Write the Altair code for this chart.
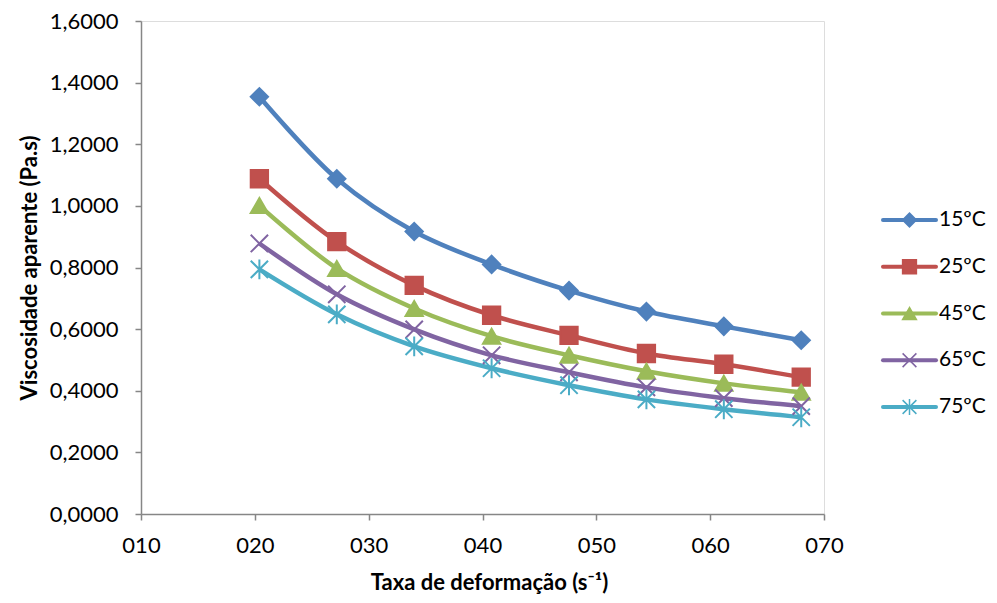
import altair as alt
import pandas as pd

# ---- data ----
series = ["15ºC", "25ºC", "45ºC", "65ºC", "75ºC"]
shear_rate = [20.4, 27.2, 34.0, 40.8, 47.6, 54.4, 61.2, 68.0]
visc_15 = [1.354, 1.088, 0.917, 0.810, 0.725, 0.657, 0.609, 0.564]
visc_25 = [1.088, 0.884, 0.742, 0.645, 0.580, 0.521, 0.486, 0.444]
visc_45 = [1.001, 0.797, 0.667, 0.577, 0.515, 0.463, 0.424, 0.395]
visc_65 = [0.878, 0.713, 0.599, 0.515, 0.460, 0.411, 0.376, 0.350]
visc_75 = [0.794, 0.648, 0.544, 0.473, 0.418, 0.372, 0.340, 0.314]
x_ticks = [10, 20, 30, 40, 50, 60, 70]
y_ticks = [0, 0.2, 0.4, 0.6, 0.8, 1.0, 1.2, 1.4, 1.6]

colors = ["#4F81BD", "#C0504D", "#9BBB59", "#8064A2", "#4BACC6"]
shapes = ["diamond", "square", "triangle-up",
          "M-1,-1L1,1M1,-1L-1,1",
          "M-1,-1L1,1M1,-1L-1,1M0,-1.15L0,1.15"]

rows = []
for s, vals in zip(series, [visc_15, visc_25, visc_45, visc_65, visc_75]):
    for xv, yv in zip(shear_rate, vals):
        rows.append({"series": s, "rate": xv, "visc": yv})
df = pd.DataFrame(rows)
leg = pd.DataFrame({"series": series})

FONT = "Lato"
AXIS_GRAY = "#868686"

color_scale = alt.Scale(domain=series, range=colors)
shape_scale = alt.Scale(domain=series, range=shapes)
x_scale = alt.Scale(domain=[10, 70], nice=False, zero=False)
y_scale = alt.Scale(domain=[0, 1.6], nice=False)

x_axis = alt.Axis(
    values=x_ticks, format="03d", title="Taxa de deformação (s⁻¹)",
    grid=False, domainColor=AXIS_GRAY, domainWidth=1.5, tickColor=AXIS_GRAY,
    tickWidth=1.5, tickSize=6, labelFont=FONT, labelFontSize=22, labelColor="#000",
    labelPadding=15, titleFont=FONT, titleFontSize=22, titleFontWeight="bold",
    titleColor="#000", titlePadding=16, titleX=348, labelFlush=False)

y_axis = alt.Axis(
    values=y_ticks, labelExpr="replace(format(datum.value, '.4f'), '.', ',')",
    title="Viscosidade aparente (Pa.s)", grid=False, domainColor=AXIS_GRAY,
    domainWidth=1.5, tickColor=AXIS_GRAY, tickWidth=1.5, tickSize=6,
    labelFont=FONT, labelFontSize=22, labelColor="#000", labelPadding=17,
    titleFont=FONT, titleFontSize=22, titleFontWeight="bold", titleColor="#000",
    titlePadding=8, labelFlush=False)

x_enc = alt.X("rate:Q", scale=x_scale, axis=x_axis)
y_enc = alt.Y("visc:Q", scale=y_scale, axis=y_axis)

lines = alt.Chart(df).mark_line(interpolate="catmull-rom", strokeWidth=4.5).encode(
    x=x_enc, y=y_enc,
    color=alt.Color("series:N", scale=color_scale, legend=None),
    detail="series:N",
)

points = alt.Chart(df).mark_point(filled=True, size=300, strokeWidth=2, opacity=1).encode(
    x=x_enc, y=y_enc,
    shape=alt.Shape("series:N", scale=shape_scale, legend=None),
    fill=alt.Fill("series:N", scale=color_scale, legend=None),
    stroke=alt.Stroke("series:N", scale=color_scale, legend=None),
)

main = alt.layer(lines, points)

leg_y = alt.Y("series:N", scale=alt.Scale(type="point", domain=series,
                                          range=[199, 386], padding=0), axis=None)

leg_rules = alt.Chart(leg).mark_rule(strokeWidth=4, strokeCap="round").encode(
    x=alt.value(742), x2=alt.value(795), y=leg_y,
    color=alt.Color("series:N", scale=color_scale, legend=None),
)
leg_pts = alt.Chart(leg).mark_point(filled=True, size=190, strokeWidth=1.5, opacity=1).encode(
    x=alt.value(768.5), y=leg_y,
    shape=alt.Shape("series:N", scale=shape_scale, legend=None),
    fill=alt.Fill("series:N", scale=color_scale, legend=None),
    stroke=alt.Stroke("series:N", scale=color_scale, legend=None),
)
leg_text = alt.Chart(leg).mark_text(align="left", baseline="middle", font=FONT,
                                     fontSize=21, color="#000").encode(
    x=alt.value(798), y=leg_y, text="series:N",
)

legend = alt.layer(leg_rules, leg_pts, leg_text)

chart = alt.layer(main, legend).resolve_scale(
    y="independent"
).properties(
    width=683, height=493,
    autosize=alt.AutoSizeParams(type="none"),
    padding={"left": 133, "top": 13, "right": 165, "bottom": 82},
).configure_view(stroke=None).configure(background="white")

chart.save("out.html", embed_options={"renderer": "svg", "actions": False})
